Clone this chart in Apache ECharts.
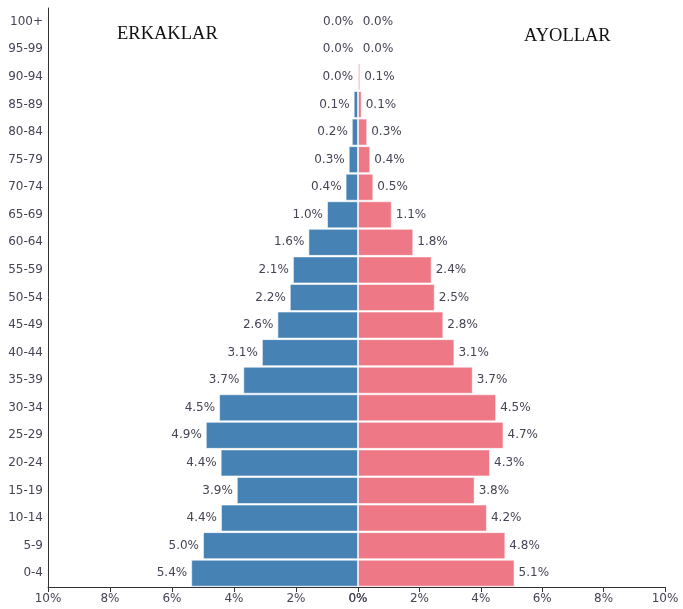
<!DOCTYPE html>
<html>
<head>
<meta charset="utf-8">
<script src="https://cdn.jsdelivr.net/npm/echarts@6/dist/echarts.min.js"></script>
<style>
  html, body { margin: 0; padding: 0; background: #fff; }
  #main { width: 683px; height: 609px; }
</style>
</head>
<body>
<div id="main"></div>
<script>
// yosh guruhlari (pastdan yuqoriga)
var ageGroups = ['0-4', '5-9', '10-14', '15-19', '20-24', '25-29', '30-34', '35-39', '40-44', '45-49',
  '50-54', '55-59', '60-64', '65-69', '70-74', '75-79', '80-84', '85-89', '90-94', '95-99', '100+']
// erkaklar, %
var maleValues = [5.38, 5.0, 4.42, 3.91, 4.43, 4.91, 4.48, 3.7, 3.1, 2.6,
  2.2, 2.1, 1.6, 1.0, 0.4, 0.3, 0.2, 0.14, 0.03, 0.01, 0.0]
// ayollar, %
var femaleValues = [5.1, 4.8, 4.2, 3.8, 4.3, 4.74, 4.5, 3.74, 3.14, 2.78,
  2.5, 2.4, 1.8, 1.1, 0.5, 0.4, 0.3, 0.12, 0.07, 0.02, 0.01]
var xTicks = [0, 2, 4, 6, 8, 10]

var chart = echarts.init(document.getElementById('main'))

var labelColor = '#444455'
var font = 'DejaVu Sans'

function pct(p) {
  return p.value.toFixed(1) + '%'
}

chart.setOption({
  animation: false,
  grid: [
    { left: 48, right: 325, top: 8, bottom: 22 },
    { left: 358, right: 18, top: 8, bottom: 22 }
  ],
  xAxis: [
    {
      gridIndex: 0,
      type: 'value',
      inverse: true,
      min: xTicks[0],
      max: xTicks[xTicks.length - 1],
      interval: 2,
      splitLine: { show: false },
      axisLine: { show: true, lineStyle: { color: '#333', width: 1 } },
      axisTick: { show: true, length: 5, lineStyle: { color: '#333' } },
      axisLabel: { formatter: '{value}%', color: labelColor, fontFamily: font, fontSize: 12, margin: 6 }
    },
    {
      gridIndex: 1,
      type: 'value',
      min: xTicks[0],
      max: xTicks[xTicks.length - 1],
      interval: 2,
      splitLine: { show: false },
      axisLine: { show: true, lineStyle: { color: '#333', width: 1 } },
      axisTick: { show: true, length: 5, lineStyle: { color: '#333' } },
      axisLabel: { formatter: '{value}%', color: labelColor, fontFamily: font, fontSize: 12, margin: 6 }
    }
  ],
  yAxis: [
    {
      gridIndex: 0,
      type: 'category',
      data: ageGroups,
      axisLine: { show: true, onZero: false, lineStyle: { color: '#333', width: 1 } },
      axisTick: { show: false },
      axisLabel: { color: labelColor, fontFamily: font, fontSize: 12, margin: 5 }
    },
    {
      gridIndex: 1,
      type: 'category',
      data: ageGroups,
      show: false
    }
  ],
  series: [
    {
      name: 'Erkaklar',
      type: 'bar',
      xAxisIndex: 0,
      yAxisIndex: 0,
      data: maleValues,
      barCategoryGap: '2%',
      itemStyle: { color: '#4682b4', borderColor: 'rgba(255,255,255,0.55)', borderWidth: 1 },
      label: {
        show: true,
        position: 'left',
        distance: 4,
        formatter: pct,
        color: labelColor,
        fontFamily: font,
        fontSize: 12
      }
    },
    {
      name: 'Ayollar',
      type: 'bar',
      xAxisIndex: 1,
      yAxisIndex: 1,
      data: femaleValues,
      barCategoryGap: '2%',
      itemStyle: { color: '#ef7887', borderColor: 'rgba(255,255,255,0.55)', borderWidth: 1 },
      label: {
        show: true,
        position: 'right',
        distance: 4,
        formatter: pct,
        color: labelColor,
        fontFamily: font,
        fontSize: 12
      }
    }
  ],
  graphic: [
    {
      type: 'text',
      left: 117,
      top: 25,
      style: { text: 'ERKAKLAR', fill: '#111', font: '18.5px "Liberation Serif"' }
    },
    {
      type: 'text',
      left: 524,
      top: 27,
      style: { text: 'AYOLLAR', fill: '#111', font: '18.5px "Liberation Serif"' }
    }
  ]
})
</script>
</body>
</html>
